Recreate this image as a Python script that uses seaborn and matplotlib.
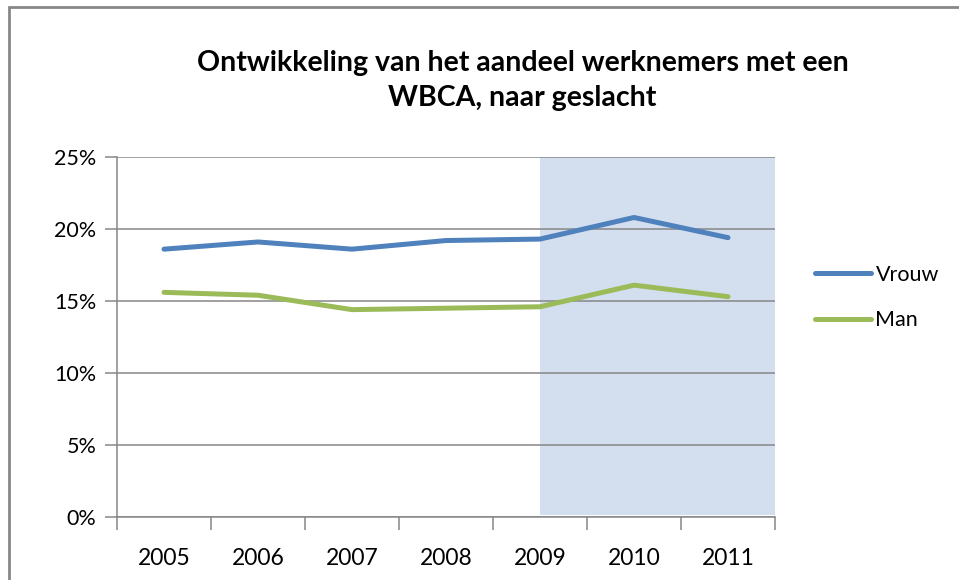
import numpy as np
import pandas as pd
import seaborn as sns
import matplotlib.pyplot as plt
from matplotlib.patches import Rectangle
from matplotlib.ticker import FuncFormatter, FixedLocator

# Data (share of employees with WBCA, in %)
years = [2005, 2006, 2007, 2008, 2009, 2010, 2011]
vrouw = [18.6, 19.1, 18.6, 19.2, 19.3, 20.8, 19.4]
man = [15.6, 15.4, 14.4, 14.5, 14.6, 16.1, 15.3]
series_names = ["Vrouw", "Man"]
shade_from = 2009

# Build long-form table for seaborn
pos = list(range(len(years)))
df = pd.DataFrame({
    "pos": pos * 2,
    "waarde": vrouw + man,
    "geslacht": [series_names[0]] * len(years) + [series_names[1]] * len(years),
})

sns.set_theme(style="white")
plt.rcParams["font.family"] = ["Lato", "DejaVu Sans"]
plt.rcParams["text.color"] = "black"
plt.rcParams["xtick.color"] = "black"
plt.rcParams["ytick.color"] = "black"

fig = plt.figure(figsize=(9.59, 5.80), dpi=100)
ax = fig.add_axes([117 / 959, 63 / 580, 658 / 959, 360 / 580])

# Outer chart border (cropped on the right and bottom)
fig.patches.append(Rectangle((9 / 959, -0.05), 1.1, 1.05 - 7 / 580,
                             transform=fig.transFigure, fill=False,
                             edgecolor="#878787", linewidth=2, zorder=0))

# Shaded period
ax.axvspan(years.index(shade_from), len(years) - 0.5, ymin=0.005, ymax=1,
           color="#D3DEEE", zorder=0, lw=0)

sns.lineplot(data=df, x="pos", y="waarde", hue="geslacht",
             palette={"Vrouw": "#4F81BD", "Man": "#9BBB59"},
             linewidth=3.6, ax=ax, zorder=3)

ax.set_xlim(-0.5, len(years) - 0.5)
ax.set_ylim(0, 25)
ax.set_yticks(np.arange(0, 26, 5))
ax.yaxis.set_major_formatter(FuncFormatter(lambda v, _: f"{v:.0f}%"))
ax.set_xticks(pos)
ax.set_xticklabels([str(y) for y in years])
ax.xaxis.set_minor_locator(FixedLocator(np.arange(-0.5, len(years), 1.0)))

ax.grid(axis="y", color="#868686", linewidth=1.1, zorder=1)
ax.set_axisbelow(False)
for s in ["top", "right"]:
    ax.spines[s].set_visible(False)
for s in ["left", "bottom"]:
    ax.spines[s].set_color("#868686")
    ax.spines[s].set_linewidth(1.1)

ax.tick_params(axis="y", which="major", length=9, width=1.1, color="#868686",
               labelcolor="black", labelsize=15.5, pad=6, left=True)
ax.tick_params(axis="x", which="major", length=0, labelsize=16.5, pad=22,
               labelcolor="black")
ax.tick_params(axis="x", which="minor", length=9, width=1.1, color="#868686",
               bottom=True)
ax.set_xlabel("")
ax.set_ylabel("")

fig.text(0.545, 0.861, "Ontwikkeling van het aandeel werknemers met een\nWBCA, naar geslacht",
         ha="center", va="center", fontsize=20.5, fontweight="bold",
         linespacing=1.42)

leg = ax.legend(loc="upper left", bbox_to_anchor=(1.048, 0.725), frameon=False,
                fontsize=15.5, handlelength=2.6, handletextpad=0.2,
                labelspacing=1.2, borderaxespad=0)

fig.savefig("out.png", dpi=100)
